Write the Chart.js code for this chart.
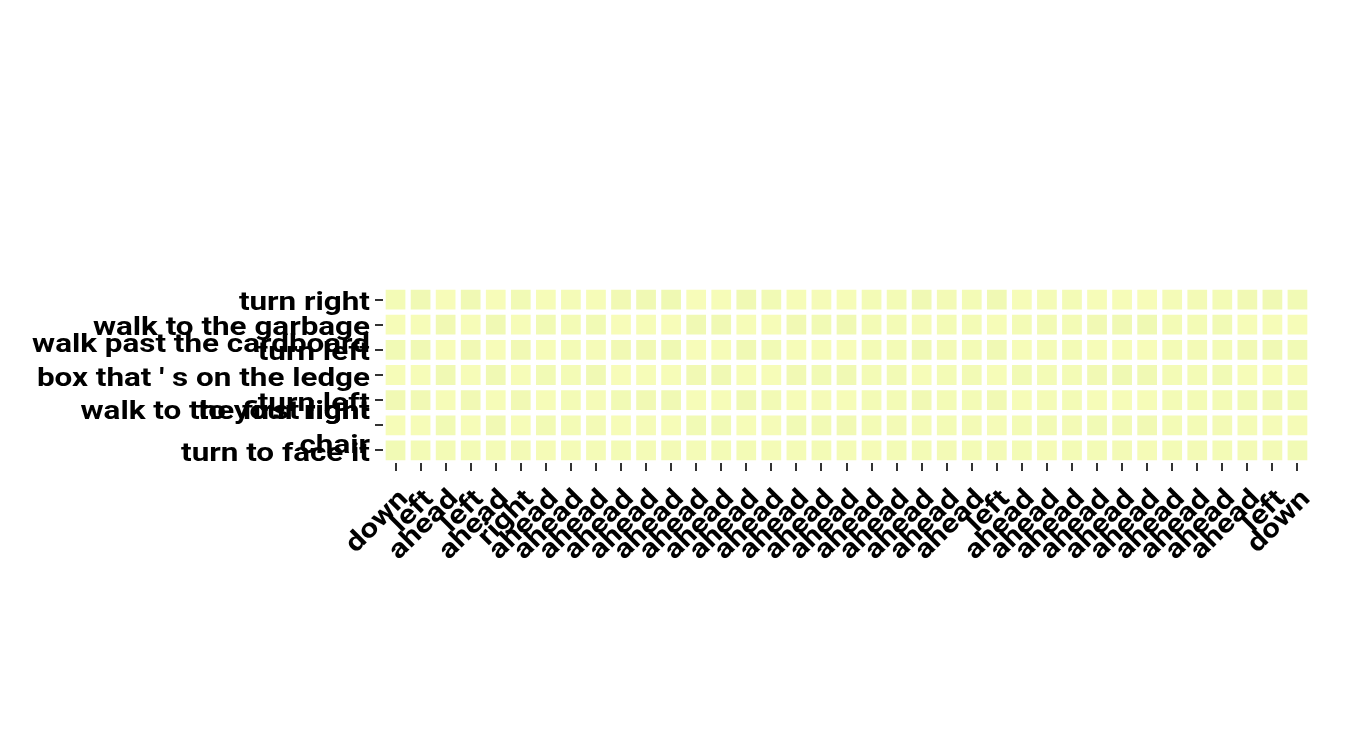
<!DOCTYPE html>
<html><head><meta charset="utf-8">
<script src="https://cdn.jsdelivr.net/npm/chart.js@4.4.0/dist/chart.umd.min.js"></script>
<style>html,body{margin:0;padding:0;background:#fff;}#wrap{width:1350px;height:750px;}</style>
</head><body><div id="wrap"><canvas id="c" width="1350" height="750"></canvas></div>
<script>
const xLabels = ["down","left","ahead","left","ahead","right","ahead","ahead","ahead","ahead","ahead","ahead","ahead","ahead","ahead","ahead","ahead","ahead","ahead","ahead","ahead","ahead","ahead","ahead","left","ahead","ahead","ahead","ahead","ahead","ahead","ahead","ahead","ahead","ahead","left","down"];
const yLabels = ["turn right","walk to the garbage","turn left",["walk past the cardboard","box that ' s on the ledge","walk to the first light"],"turn left",["to your right","chair"],"turn to face it"];

const row0 = [.14,.155,.125,.155,.125,.15,.128,.138,.13,.152,.155,.16,.125,.128,.155,.148,.13,.132,.128,.14,.14,.155,.142,.14,.155,.13,.138,.14,.128,.13,.125,.138,.142,.14,.152,.155,.15];
const row1 = [.128,.128,.152,.13,.155,.13,.148,.14,.15,.125,.128,.125,.155,.155,.128,.13,.152,.148,.155,.14,.14,.132,.14,.14,.128,.14,.145,.14,.152,.155,.158,.14,.14,.148,.13,.128,.13];
const row2 = [.15,.155,.125,.152,.125,.152,.128,.14,.132,.152,.152,.158,.125,.128,.155,.15,.13,.13,.125,.14,.14,.155,.142,.14,.155,.13,.138,.14,.13,.13,.125,.14,.142,.14,.152,.155,.15];
const row3 = [.13,.128,.155,.13,.155,.13,.148,.14,.155,.125,.13,.128,.152,.155,.128,.13,.152,.148,.155,.14,.145,.13,.14,.145,.13,.148,.14,.14,.152,.158,.155,.14,.14,.15,.128,.128,.132];
const row4 = [.152,.152,.13,.152,.128,.152,.13,.14,.132,.15,.152,.155,.128,.13,.155,.145,.13,.132,.128,.14,.14,.152,.14,.14,.152,.13,.138,.14,.13,.13,.128,.14,.14,.14,.15,.152,.15];
const row5 = [.13,.13,.15,.13,.152,.13,.145,.14,.142,.13,.132,.13,.15,.148,.13,.132,.148,.145,.152,.14,.142,.138,.14,.142,.132,.14,.145,.142,.148,.145,.152,.14,.14,.142,.138,.132,.135];
const row6 = [.15,.14,.14,.14,.138,.142,.135,.138,.138,.14,.138,.142,.138,.14,.14,.138,.138,.14,.138,.135,.14,.14,.142,.14,.142,.14,.135,.14,.14,.142,.135,.14,.142,.14,.142,.142,.15];
const rows = [row0,row1,row2,row3,row4,row5,row6];

const stops = [[0,[255,255,229]],[0.125,[247,252,185]],[0.25,[217,240,163]],[0.375,[173,221,142]]];
function colorFor(v){
  for(let i=0;i<stops.length-1;i++){
    const [a,ca]=stops[i],[b,cb]=stops[i+1];
    if(v<=b){const t=(v-a)/(b-a);return 'rgb('+ca.map((c,k)=>Math.round(c+(cb[k]-c)*t)).join(',')+')';}
  }
  return 'rgb(173,221,142)';
}
// text in the reference is Roboto drawn slightly wide: stretch glyphs along the text direction
const TEXT_STRETCH = 1.19;
const stretchText = {
  id:'stretchText',
  beforeInit(chart){
    const ctx = chart.ctx;
    const orig = ctx.fillText.bind(ctx);
    ctx.fillText = function(text, x, y){
      ctx.save();
      ctx.translate(x, y);
      ctx.scale(TEXT_STRETCH, 1);
      orig(text, 0, 0);
      ctx.restore();
    };
  }
};
const baseFont = {family:'Roboto', weight:'bold', size:26.4};
const yLineHeights = [1.2,1.2,1.2,1.27,1.2,1.3,1.2];
new Chart(document.getElementById('c'), {
  type:'bar',
  plugins:[stretchText],
  data:{labels:xLabels, datasets: rows.map((r,i)=>({
    label:'row'+i, data:r.map(()=>1), backgroundColor:r.map(colorFor),
    borderColor:'#ffffff', borderWidth:3, borderSkipped:false, barPercentage:1, categoryPercentage:1
  }))},
  options:{
    responsive:false, animation:false,
    layout:{padding:{left:0,right:40,top:287,bottom:187}},
    plugins:{legend:{display:false},tooltip:{enabled:false}},
    scales:{
      x:{stacked:true, border:{display:false},
         grid:{display:true, offset:false, drawOnChartArea:false, drawTicks:true, tickLength:8, color:'#333', lineWidth:2},
         ticks:{font:baseFont, color:'#000', minRotation:45, maxRotation:45, autoSkip:false, padding:13, labelOffset:9},
         afterFit:s=>{s.height=100;}},
      y:{stacked:true, reverse:true, min:0, max:7, border:{display:false},
         afterBuildTicks:s=>{s.ticks=yLabels.map((_,i)=>({value:i+0.5}));},
         grid:{display:true, drawOnChartArea:false, drawTicks:true, tickLength:8, color:'#333', lineWidth:2},
         ticks:{font:(c)=>Object.assign({}, baseFont, {lineHeight: yLineHeights[c.index] || 1.2}),
                color:'#000', padding:5, labelOffset:4, autoSkip:false, callback:(v,i)=>yLabels[i]},
         afterFit:s=>{s.width=383;}}
    }
  }
});
</script></body></html>
